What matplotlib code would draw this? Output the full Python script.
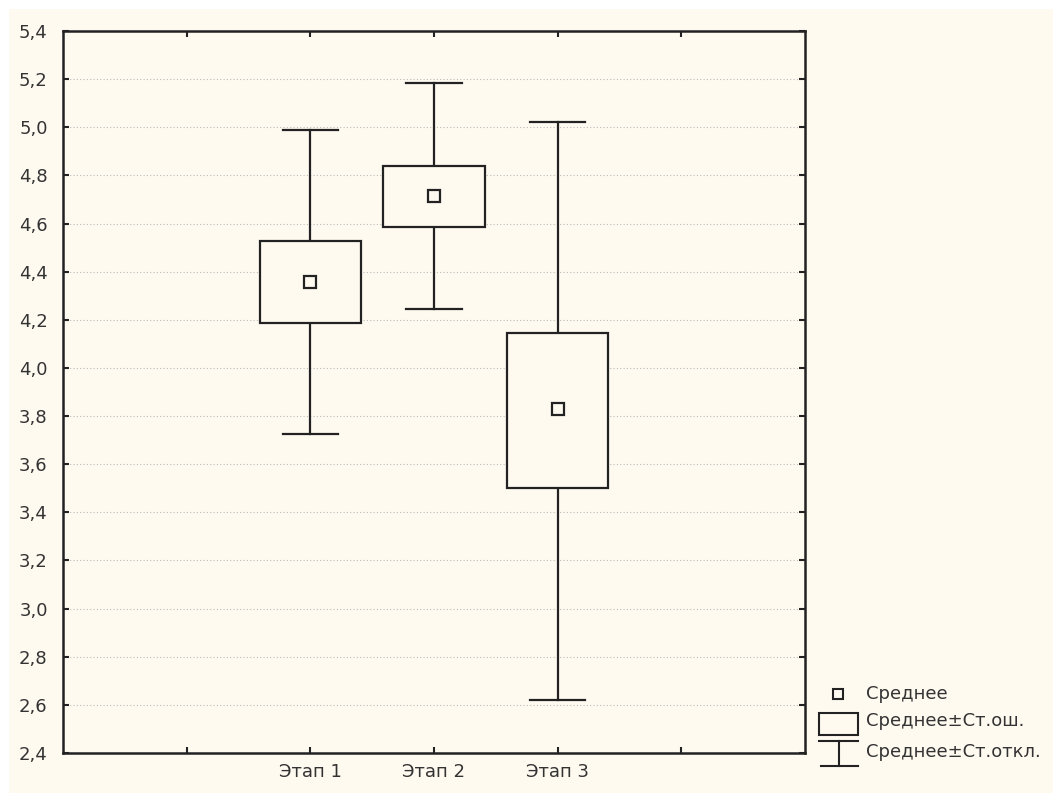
import matplotlib
matplotlib.use("Agg")
import matplotlib.pyplot as plt
from matplotlib.patches import Rectangle
from matplotlib.lines import Line2D

categories = ["Этап 1", "Этап 2", "Этап 3"]
means = [4.357, 4.713, 3.828]
se_low = [4.188, 4.585, 3.501]
se_high = [4.527, 4.841, 4.146]
sd_low = [3.724, 4.246, 2.620]
sd_high = [4.990, 5.185, 5.023]
yticks = [2.4, 2.6, 2.8, 3.0, 3.2, 3.4, 3.6, 3.8, 4.0, 4.2, 4.4, 4.6, 4.8, 5.0, 5.2, 5.4]

cream = "#FFFAF0"
plt.rcParams["font.family"] = ["DejaVu Sans"]

W, H = 1053, 796
fig = plt.figure(figsize=(W / 100, H / 100), dpi=100, facecolor="white")
fig.patches.append(Rectangle((9 / W, 1 - 793 / H), 1 - 9 / W, (793 - 9) / H,
                             transform=fig.transFigure, facecolor=cream,
                             edgecolor="none", zorder=-10))

ax = fig.add_axes([63 / W, 1 - 753 / H, (805 - 63) / W, (753 - 31) / H])
ax.set_facecolor(cream)
ax.set_xlim(-1, 5)
ax.set_ylim(2.4, 5.4)

box_w = 0.82
cap_w = 0.45
for i, cat in enumerate(categories):
    x = i + 1
    ax.plot([x, x], [sd_low[i], se_low[i]], color="#222222", lw=1.6, zorder=3)
    ax.plot([x, x], [se_high[i], sd_high[i]], color="#222222", lw=1.6, zorder=3)
    ax.plot([x - cap_w / 2, x + cap_w / 2], [sd_low[i], sd_low[i]], color="#222222", lw=1.6, zorder=3)
    ax.plot([x - cap_w / 2, x + cap_w / 2], [sd_high[i], sd_high[i]], color="#222222", lw=1.6, zorder=3)
    ax.add_patch(Rectangle((x - box_w / 2, se_low[i]), box_w, se_high[i] - se_low[i],
                           facecolor=cream, edgecolor="#222222", lw=1.6, zorder=4))
    ax.plot([x], [means[i]], marker="s", markersize=8, markerfacecolor=cream,
            markeredgecolor="#222222", markeredgewidth=1.6, zorder=5)

ax.set_yticks(yticks)
ax.set_yticklabels([f"{v:.1f}".replace(".", ",") for v in yticks])
ax.set_xticks([0, 1, 2, 3, 4])
ax.set_xticklabels(["", *categories, ""])
ax.grid(axis="y", color="#BBBBBB", linestyle=(0, (1, 2)), lw=0.8)
ax.set_axisbelow(True)
for s in ax.spines.values():
    s.set_linewidth(1.8)
    s.set_color("#222222")
ax.tick_params(direction="in", length=4, width=1.5, color="#222222",
               top=True, right=True, labelsize=13, labelcolor="#333333", pad=11)
ax.tick_params(axis="x", pad=7)

def fx(px):
    return px / W

def fy(py):
    return 1 - py / H

fig.lines.append(Line2D([fx(838)], [fy(694)], marker="s", markersize=7,
                        markerfacecolor=cream, markeredgecolor="#222222",
                        markeredgewidth=1.5, transform=fig.transFigure))
fig.patches.append(Rectangle((fx(819), fy(735)), (858 - 819) / W, (735 - 713) / H,
                             transform=fig.transFigure, facecolor=cream,
                             edgecolor="#222222", lw=1.5))
fig.lines.append(Line2D([fx(819), fx(858)], [fy(741), fy(741)], color="#222222", lw=1.5,
                        transform=fig.transFigure))
fig.lines.append(Line2D([fx(821), fx(858)], [fy(766), fy(766)], color="#222222", lw=1.5,
                        transform=fig.transFigure))
fig.lines.append(Line2D([fx(839), fx(839)], [fy(741), fy(766)], color="#222222", lw=1.5,
                        transform=fig.transFigure))
for txt, py in [("Среднее", 694), ("Среднее±Ст.ош.", 721), ("Среднее±Ст.откл.", 752)]:
    fig.text(fx(866), fy(py), txt, fontsize=13, color="#333333", va="center", ha="left")

fig.savefig("out.png", dpi=100, facecolor="white")
